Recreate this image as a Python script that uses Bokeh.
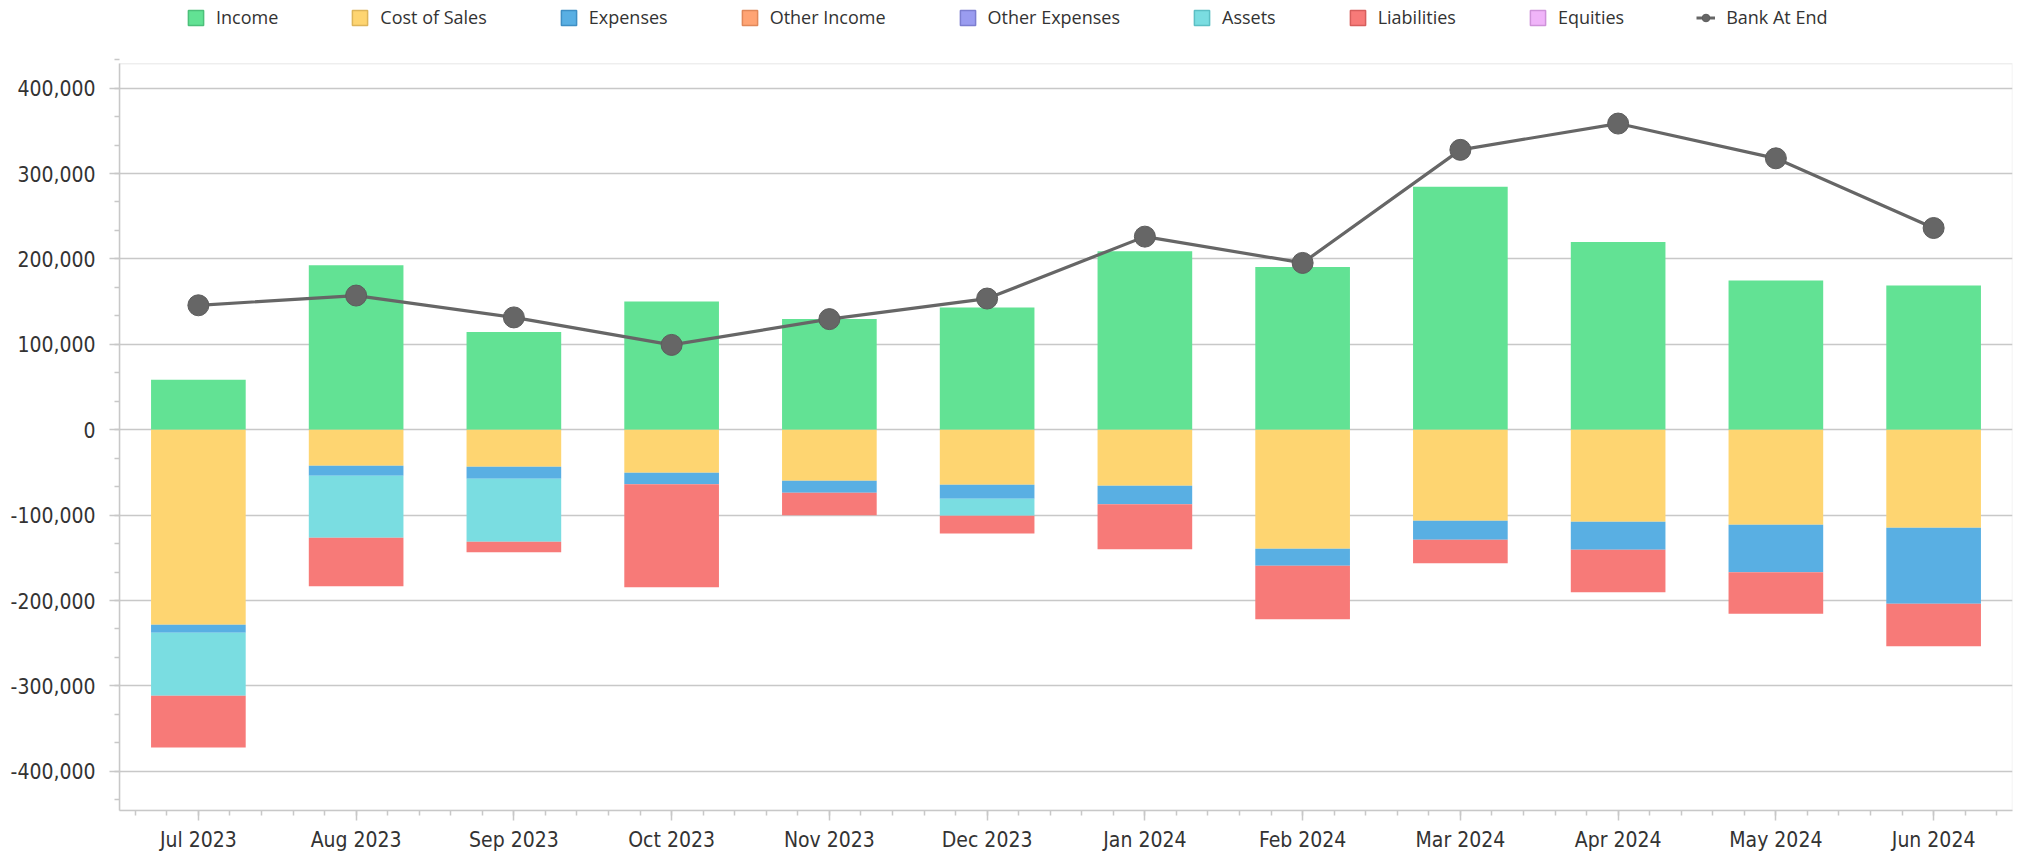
import numpy as np
from bokeh.plotting import figure
from bokeh.models import (ColumnDataSource, Range1d, FixedTicker, NumeralTickFormatter,
                          Legend, LegendItem, BoxAnnotation)
from bokeh.embed import file_html
from bokeh.resources import INLINE

# ---------------- data ----------------
months = ["Jul 2023", "Aug 2023", "Sep 2023", "Oct 2023", "Nov 2023", "Dec 2023",
          "Jan 2024", "Feb 2024", "Mar 2024", "Apr 2024", "May 2024", "Jun 2024"]
income = [58500, 192500, 114500, 150000, 129500, 143000, 209000, 190500, 284500, 219800, 174700, 169000]
cost_of_sales = [-228300, -42100, -43300, -50300, -59800, -64400, -65600, -139300, -106500, -107700, -111200, -114700]
expenses = [-9400, -11700, -14100, -13700, -14000, -16400, -21800, -19900, -22300, -32800, -55800, -89000]
other_income = [0, 0, 0, 0, 0, 0, 0, 0, 0, 0, 0, 0]
other_expenses = [0, 0, 0, 0, 0, 0, 0, 0, 0, 0, 0, 0]
assets = [-73800, -72600, -73700, 0, 0, -19900, 0, 0, 0, 0, 0, 0]
liabilities = [-60500, -57000, -12500, -120600, -26500, -20700, -52500, -62800, -27700, -49900, -48400, -50000]
equities = [0, 0, 0, 0, 0, 0, 0, 0, 0, 0, 0, 0]
bank_at_end = [145700, 157100, 131500, 99300, 129500, 153600, 226100, 195300, 327700, 358500, 317800, 236200]

series_names = ["Income", "Cost of Sales", "Expenses", "Other Income", "Other Expenses",
                "Assets", "Liabilities", "Equities"]
fills = ["#62E294", "#FED571", "#59AFE3", "#FFA474", "#9A9CF0", "#7ADDE1", "#F77A78", "#F0B4F9"]
borders = ["#4CC07A", "#DDB55A", "#3F8FC4", "#E0885A", "#7C7ED0", "#5CBFC4", "#D65E5C", "#CF92DA"]

y_bottom, y_top = -445900, 428500      # plot-area value span
x = list(range(len(months)))
src = ColumnDataSource(dict(
    x=x, income=income, cos=cost_of_sales, exp=expenses, oi=other_income, oe=other_expenses,
    assets=assets, liab=liabilities, eq=equities, bank=bank_at_end))

FONT = "DejaVu Sans Condensed"
GRID = "#c8c8c8"

# frame extends to canvas top so that the legend (drawn inside the frame) sits above the plot box
p = figure(width=2018, height=856,
           x_range=Range1d(-0.5, len(months) - 0.5),
           y_range=Range1d(y_bottom, 502600),
           output_backend="svg", toolbar_location=None,
           min_border_left=119, min_border_right=6, min_border_top=0, min_border_bottom=46)

# bars
p.vbar(x="x", top="income", bottom=0, width=0.6, fill_color=fills[0], line_color=None, source=src)
neg_keys = ["cos", "exp", "oi", "oe", "assets", "liab", "eq"]
p.vbar_stack(neg_keys, x="x", width=0.6, fill_color=fills[1:], line_color=None, source=src)

# bank line
line_r = p.line("x", "bank", line_color="#666666", line_width=3.2, source=src)
dot_r = p.scatter("x", "bank", size=21, fill_color="#666666", line_color="#5c5c5c",
                  line_width=1, source=src)

# plot box border
p.add_layout(BoxAnnotation(left=-0.5, right=len(months) - 0.5, bottom=y_bottom, top=y_top,
                           fill_color=None, fill_alpha=0, line_color=GRID, line_width=1.5))

# legend-only swatches (NaN data: nothing drawn in the plot, swatch drawn in legend)
nan = np.array([np.nan])
items = []
for name, f, b in zip(series_names, fills, borders):
    r = p.vbar(x=nan, top=nan, width=0.6, fill_color=f, line_color=b, line_width=1.5)
    items.append(LegendItem(label=name, renderers=[r]))
leg_line = p.line(x=nan, y=nan, line_color="#666666", line_width=3)
leg_dot = p.scatter(x=nan, y=nan, size=30, fill_color="#666666", line_color="#5c5c5c")
items.append(LegendItem(label="Bank At End", renderers=[leg_line, leg_dot]))

legend = Legend(items=items, orientation="horizontal", location=(67, 781),
                glyph_width=19, glyph_height=19, label_standoff=11, spacing=72,
                padding=0, margin=0, border_line_color=None, background_fill_alpha=0,
                label_text_font="Open Sans", label_text_font_size="18px",
                label_text_color="#333333", label_text_baseline="middle")
p.add_layout(legend)

# axes
p.xaxis.ticker = FixedTicker(ticks=x, minor_ticks=[round(v, 2) for v in np.arange(-0.4, len(months) - 0.5, 0.2)])
p.xaxis.major_label_overrides = {i: m for i, m in zip(x, months)}
p.yaxis.ticker = FixedTicker(ticks=list(range(-400000, 400001, 100000)),
                             minor_ticks=[round(v) for v in np.arange(-433333.33, 433334, 100000 / 3)])
p.yaxis.formatter = NumeralTickFormatter(format="0,0")
p.yaxis.bounds = (y_bottom, y_top)

for ax in (p.xaxis[0], p.yaxis[0]):
    ax.axis_line_color = GRID
    ax.axis_line_width = 1.5
    ax.major_tick_line_color = GRID
    ax.major_tick_line_width = 1.5
    ax.minor_tick_line_color = GRID
    ax.minor_tick_line_width = 1.5
    ax.major_tick_in = 0
    ax.major_tick_out = 10
    ax.minor_tick_in = 0
    ax.minor_tick_out = 5
    ax.major_label_text_font = FONT
    ax.major_label_text_font_size = "21px"
    ax.major_label_text_color = "#333333"
p.yaxis.major_label_standoff = 14
p.xaxis.major_label_standoff = 7

p.xgrid.visible = False
p.ygrid.grid_line_color = GRID
p.ygrid.grid_line_width = 1.5
p.outline_line_color = None
p.background_fill_color = "white"
p.border_fill_color = "white"

open("out.html", "w").write(file_html(p, INLINE))
